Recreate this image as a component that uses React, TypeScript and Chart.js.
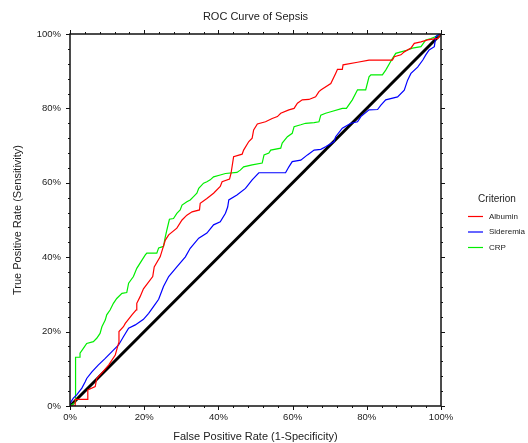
import React, { useEffect, useRef } from "react";
import { Chart, registerables } from "chart.js";

Chart.register(...registerables);

// ---- data (percent) ----
const albuminFpr = [0, 1.4, 1.4, 4.8, 4.8, 6.8, 7.2, 9.3, 10.4, 12.2, 13.1, 13.2, 14.4, 14.9, 16.7, 17.8, 18.0, 18.9, 19.8, 22.3, 22.7, 24.3, 25.7, 26.6, 28.8, 30.2, 31.5, 32.9, 34.9, 35.1, 36.9, 38.7, 40.5, 41.0, 43.0, 43.4, 44.1, 46.4, 46.8, 48.2, 49.1, 49.5, 50.5, 52.7, 54.5, 55.9, 56.8, 59.0, 60.4, 61.3, 62.6, 64.4, 66.2, 67.1, 67.7, 70.3, 71.6, 72.1, 73.4, 73.6, 77.5, 80.6, 86.9, 87.4, 89.2, 90.1, 91.9, 92.8, 94.6, 96.4, 99.1, 100];
const albuminTpr = [0, 0, 1.8, 1.8, 4.3, 5.2, 7.4, 9.7, 11.0, 13.7, 16.9, 20.0, 21.3, 22.2, 24.5, 25.8, 27.6, 29.4, 31.5, 34.8, 37.4, 40.1, 44.6, 46.0, 47.8, 50.0, 51.3, 52.2, 52.7, 54.5, 55.8, 57.2, 59.0, 60.3, 61.0, 62.5, 67.0, 67.7, 68.8, 71.1, 72.0, 74.2, 75.8, 76.4, 77.3, 77.8, 78.7, 79.6, 80.0, 81.4, 82.3, 82.4, 83.1, 84.5, 85.0, 86.7, 89.4, 90.5, 90.5, 91.7, 92.4, 93.0, 93.0, 93.9, 94.4, 95.2, 96.2, 97.5, 97.9, 98.4, 98.8, 100];

const sideremiaFpr = [0, 0, 0.9, 1.8, 3.2, 4.1, 4.5, 5.9, 7.6, 9.5, 11.3, 13.1, 14.4, 15.8, 17.6, 19.8, 21.2, 22.5, 23.9, 25.2, 26.6, 28.8, 31.1, 32.4, 34.7, 36.9, 38.7, 40.5, 41.9, 42.5, 42.8, 45.0, 47.3, 49.1, 50.9, 58.1, 59.0, 59.9, 62.2, 64.0, 65.8, 67.6, 68.9, 71.2, 71.6, 73.4, 75.7, 77.5, 78.4, 80.6, 82.9, 83.8, 85.1, 88.3, 90.1, 91.0, 91.9, 93.7, 95.1, 95.9, 96.8, 98.2, 98.6, 99.1, 100];
const sideremiaTpr = [0, 0.7, 2.1, 3.0, 4.8, 6.5, 7.4, 9.2, 11.0, 12.8, 14.6, 16.4, 18.6, 20.9, 21.8, 23.3, 24.9, 26.7, 28.7, 32.1, 34.8, 37.4, 40.1, 42.4, 45.1, 46.5, 48.7, 49.5, 51.8, 53.5, 55.4, 56.7, 58.5, 60.8, 62.7, 62.7, 64.3, 65.7, 66.1, 67.5, 68.8, 69.0, 69.7, 71.1, 72.4, 74.7, 76.0, 76.4, 77.8, 79.6, 79.7, 80.9, 82.3, 83.1, 84.9, 87.6, 89.4, 91.1, 93.0, 94.4, 95.7, 96.6, 99.3, 99.7, 100];

const crpFpr = [0, 1.5, 1.5, 2.7, 2.7, 3.6, 4.5, 6.3, 7.2, 8.1, 8.6, 9.5, 9.9, 10.8, 11.7, 12.6, 14.0, 15.3, 15.8, 17.1, 18.0, 19.4, 20.3, 20.7, 23.4, 23.9, 25.2, 25.7, 26.1, 26.8, 27.9, 28.8, 29.7, 30.2, 31.5, 32.4, 33.3, 34.2, 34.7, 36.0, 36.9, 37.8, 38.7, 40.5, 41.9, 45.0, 45.9, 46.8, 49.1, 51.8, 52.3, 53.6, 54.1, 56.8, 57.2, 58.6, 59.9, 60.4, 62.2, 63.5, 65.8, 67.1, 67.6, 68.9, 70.3, 73.4, 74.5, 76.1, 77.5, 79.7, 80.6, 81.1, 84.2, 85.1, 86.9, 87.8, 89.2, 91.0, 92.3, 94.6, 95.9, 97.3, 98.6, 100];
const crpTpr = [0, 1.0, 13.1, 13.1, 14.2, 15.5, 16.8, 17.3, 18.2, 19.5, 21.3, 23.1, 24.5, 25.8, 27.6, 28.9, 30.3, 30.5, 33.0, 34.8, 37.0, 39.2, 40.6, 41.1, 41.1, 42.5, 42.9, 45.5, 47.3, 50.2, 50.4, 51.8, 52.7, 54.0, 54.9, 55.4, 56.3, 57.2, 58.5, 59.9, 60.3, 60.8, 61.6, 62.1, 62.5, 62.8, 63.4, 64.3, 64.8, 65.3, 67.5, 68.0, 68.8, 69.3, 70.7, 72.4, 73.3, 75.1, 75.6, 76.0, 76.2, 76.4, 78.2, 78.7, 79.1, 80.0, 80.0, 82.3, 85.0, 85.0, 88.5, 89.0, 89.0, 90.3, 93.4, 94.8, 95.2, 95.7, 96.2, 96.6, 98.4, 98.8, 99.3, 100];

const refFpr = [0, 100];
const refTpr = [0, 100];

const seriesNames = ["Albumin", "Sideremia", "CRP"];
const seriesColors = ["#ff0000", "#0000ff", "#00ee00"];
const chartTitle = "ROC Curve of Sepsis";
const xTitle = "False Positive Rate (1-Specificity)";
const yTitle = "True Positive Rate (Sensitivity)";
const legendTitle = "Criterion";
const majorStep = 20;
const minorStep = 4;

const FONT = "'Liberation Sans', Arial, sans-serif";
const TEXT = "#222";

const toPoints = (xs: number[], ys: number[]) => xs.map((x, i) => ({ x, y: ys[i] }));

const frameAndLegend = {
  id: "frameAndLegend",
  afterDatasetsDraw(chart: any) {
    const { ctx, chartArea } = chart;
    const { left, right, top, bottom } = chartArea;
    const xs = chart.scales.x;
    const ys = chart.scales.y;
    ctx.save();
    ctx.strokeStyle = "#111";
    ctx.lineWidth = 1.5;
    ctx.strokeRect(left, top, right - left, bottom - top);
    ctx.lineWidth = 1;
    ctx.beginPath();
    for (let v = 0; v <= 100; v += minorStep) {
      const len = v % majorStep === 0 ? 4 : 2;
      const px = Math.round(xs.getPixelForValue(v)) + 0.5;
      ctx.moveTo(px, bottom);
      ctx.lineTo(px, bottom + len);
      ctx.moveTo(px, top);
      ctx.lineTo(px, top - len);
      const py = Math.round(ys.getPixelForValue(v)) + 0.5;
      ctx.moveTo(left, py);
      ctx.lineTo(left - len, py);
      ctx.moveTo(right, py);
      ctx.lineTo(right + len, py);
    }
    ctx.stroke();

    // legend
    const cy = (top + bottom) / 2;
    ctx.fillStyle = TEXT;
    ctx.font = `10px ${FONT}`;
    ctx.textAlign = "center";
    ctx.textBaseline = "middle";
    ctx.fillText(legendTitle, right + 56, cy - 21);
    ctx.font = `8px ${FONT}`;
    ctx.textAlign = "left";
    seriesNames.forEach((name, i) => {
      const yy = cy - 3.5 + i * 15.5;
      ctx.strokeStyle = seriesColors[i];
      ctx.lineWidth = 1.2;
      ctx.beginPath();
      ctx.moveTo(right + 27, yy);
      ctx.lineTo(right + 42, yy);
      ctx.stroke();
      ctx.fillStyle = TEXT;
      ctx.fillText(name, right + 48, yy);
    });
    ctx.restore();
  },
};

export default function App() {
  const ref = useRef<HTMLCanvasElement | null>(null);
  useEffect(() => {
    if (!ref.current) return;
    const seriesData = [
      toPoints(albuminFpr, albuminTpr),
      toPoints(sideremiaFpr, sideremiaTpr),
      toPoints(crpFpr, crpTpr),
    ];
    const datasets: any[] = seriesData.map((d, i) => ({
      label: seriesNames[i],
      data: d,
      showLine: true,
      borderColor: seriesColors[i],
      backgroundColor: seriesColors[i],
      borderWidth: 1.2,
      pointRadius: 0,
      tension: 0,
      fill: false,
    }));
    datasets.push({
      label: "Reference",
      data: toPoints(refFpr, refTpr),
      showLine: true,
      borderColor: "#000",
      borderWidth: 3,
      pointRadius: 0,
      fill: false,
    });
    const axisFont = { family: FONT, size: 9.5 };
    const chart = new Chart(ref.current, {
      type: "scatter",
      data: { datasets },
      options: {
        responsive: false,
        animation: false,
        layout: { padding: { left: 0, right: 87, top: 0, bottom: 0 } },
        plugins: {
          legend: { display: false },
          tooltip: { enabled: false },
          title: {
            display: true,
            text: chartTitle,
            fullSize: false,
            color: TEXT,
            font: { family: FONT, size: 11, weight: "normal" },
            padding: { top: 10.4, bottom: 10.4 },
          },
        },
        scales: {
          x: {
            type: "linear",
            min: 0,
            max: 100,
            afterFit: (s: any) => {
              s.height = 37;
            },
            ticks: {
              stepSize: majorStep,
              callback: (v: any) => v + "%",
              color: TEXT,
              font: axisFont,
              padding: 6,
              maxRotation: 0,
              autoSkip: false,
            },
            grid: { display: false, drawTicks: false },
            border: { display: false },
            title: {
              display: true,
              text: xTitle,
              color: TEXT,
              font: { family: FONT, size: 11 },
              padding: { top: 0, bottom: -1 },
            },
          },
          y: {
            type: "linear",
            min: 0,
            max: 100,
            afterFit: (s: any) => {
              s.width = 70;
            },
            ticks: {
              stepSize: majorStep,
              callback: (v: any) => v + "%",
              color: TEXT,
              font: axisFont,
              padding: 9,
              autoSkip: false,
            },
            grid: { display: false, drawTicks: false },
            border: { display: false },
            title: {
              display: true,
              text: yTitle,
              color: TEXT,
              font: { family: FONT, size: 11 },
              padding: { top: 11.4, bottom: 0 },
            },
          },
        },
      } as any,
      plugins: [frameAndLegend],
    });
    return () => chart.destroy();
  }, []);
  return (
    <div style={{ position: "fixed", left: 0, top: 0, width: 528, height: 443, background: "#fff" }}>
      <canvas ref={ref} width={528} height={443} style={{ display: "block" }} />
    </div>
  );
}
